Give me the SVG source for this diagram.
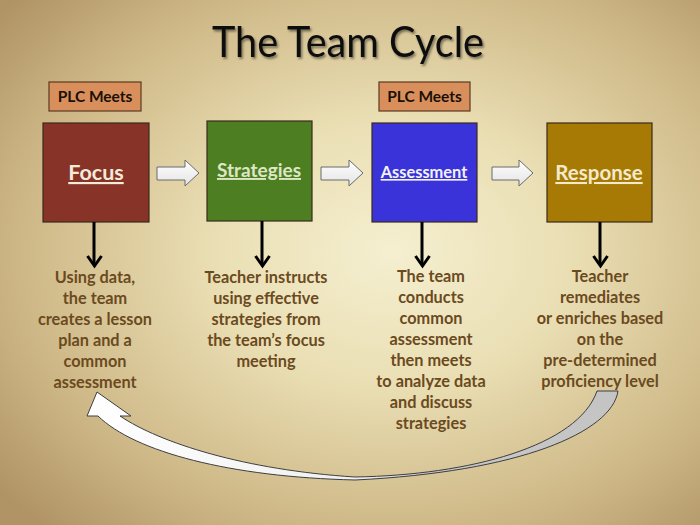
<svg xmlns="http://www.w3.org/2000/svg" width="700" height="525" viewBox="0 0 700 525">
<defs>
  <radialGradient id="bg" cx="0.56" cy="0.48" r="0.72">
    <stop offset="0" stop-color="#F5EFD0"/>
    <stop offset="0.35" stop-color="#EADFB4"/>
    <stop offset="0.75" stop-color="#CDB685"/>
    <stop offset="1" stop-color="#B09466"/>
  </radialGradient>
  <linearGradient id="blk" x1="0" y1="0" x2="0" y2="1">
    <stop offset="0" stop-color="#FFFFFF"/>
    <stop offset="1" stop-color="#E4E4E4"/>
  </linearGradient>
  <linearGradient id="curve" x1="0" y1="0" x2="1" y2="0">
    <stop offset="0" stop-color="#FFFFFF"/>
    <stop offset="0.5" stop-color="#F0F0F0"/>
    <stop offset="0.65" stop-color="#C8C8C8"/>
    <stop offset="1" stop-color="#C4C4C4"/>
  </linearGradient>
  <filter id="sh" x="-10%" y="-20%" width="120%" height="150%">
    <feDropShadow dx="1.5" dy="2" stdDeviation="1.2" flood-color="#000" flood-opacity="0.45"/>
  </filter>
  <style>
    .title{font-family:"Lato","Open Sans","Liberation Sans",sans-serif;font-size:42px;fill:#111;}
    .plc rect{fill:#D98F5B;stroke:#5A3A22;stroke-width:1.2;}
    .plc text{font-family:"Lato","Liberation Sans",sans-serif;font-weight:bold;font-size:15.5px;fill:#1A1008;text-anchor:middle;}
    .box rect{stroke:#3A2A1A;stroke-width:1.2;}
    .box text{font-family:"Lato","Liberation Sans",sans-serif;font-weight:bold;text-anchor:middle;text-decoration:underline;}
    .desc{font-family:"Lato","Liberation Sans",sans-serif;font-weight:bold;font-size:16.3px;fill:#6B4A1E;text-anchor:middle;}
    .blk{fill:url(#blk);stroke:#6A6A6A;stroke-width:1;}
    .down{stroke:#000;stroke-width:3;fill:none;}
    .vh{stroke:#000;stroke-width:3;fill:none;stroke-linejoin:miter;}
  </style>
</defs>
<rect width="700" height="525" fill="url(#bg)"/>
<text class="title" x="348" y="57" text-anchor="middle" textLength="272" lengthAdjust="spacingAndGlyphs" filter="url(#sh)">The Team Cycle</text>

<g id="plc1" class="plc"><rect x="49" y="82" width="92" height="29"/><text x="95" y="102">PLC Meets</text></g>
<g id="plc2" class="plc"><rect x="379" y="82" width="91" height="29"/><text x="424.5" y="102">PLC Meets</text></g>

<g id="focus" class="box"><rect x="43" y="123" width="106" height="99" fill="#873327"/><text x="96" y="180" font-size="21.5" fill="#F3EBDA">Focus</text></g>
<g id="strategies" class="box"><rect x="207" y="121" width="105" height="100" fill="#4E7E22"/><text x="259" y="177" font-size="19" fill="#DDE7C6">Strategies</text></g>
<g id="assessment" class="box"><rect x="372" y="123" width="105" height="99" fill="#3A33DA"/><text x="424" y="178" font-size="16.4" fill="#F2F2F8">Assessment</text></g>
<g id="response" class="box"><rect x="547" y="123" width="105" height="99" fill="#A67A05"/><text x="599" y="180" font-size="20.5" fill="#F4EACB">Response</text></g>

<g id="connectors">
  <path class="blk" d="M157,167 H185 V160 L199,173 L185,186 V180 H157 Z"/>
  <path class="blk" d="M321,167 H349 V160 L363,173 L349,186 V180 H321 Z"/>
  <path class="blk" d="M492,167 H519 V160 L533,173 L519,186 V180 H492 Z"/>
  <path class="down" d="M94,222 V265"/><path class="vh" d="M87.5,256 L94.5,266 L101.5,256"/>
  <path class="down" d="M262,221 V265"/><path class="vh" d="M255.5,256 L262.5,266 L269.5,256"/>
  <path class="down" d="M422,222 V265"/><path class="vh" d="M415.5,256 L422.5,266 L429.5,256"/>
  <path class="down" d="M600,222 V265"/><path class="vh" d="M593.5,256 L600.5,266 L607.5,256"/>
  <path d="M97,392 L131,416 L120,416 C160,443 245,470 355,477 C470,475 578,446 597,391 L618,391 C612,432 520,472 355,480 C230,477 135,452 98,416 L87,416 Z" fill="url(#curve)" stroke="#3E3E3E" stroke-width="1"/>
</g>

<g id="focus-text" class="desc">
  <text x="95" y="283">Using data,</text>
  <text x="95" y="304">the team</text>
  <text x="95" y="325">creates a lesson</text>
  <text x="95" y="346">plan and a</text>
  <text x="95" y="367">common</text>
  <text x="95" y="388">assessment</text>
</g>
<g id="strategies-text" class="desc">
  <text x="266" y="283">Teacher instructs</text>
  <text x="266" y="304">using effective</text>
  <text x="266" y="325">strategies from</text>
  <text x="266" y="346">the team’s focus</text>
  <text x="266" y="367">meeting</text>
</g>
<g id="assessment-text" class="desc">
  <text x="431" y="282">The team</text>
  <text x="431" y="303">conducts</text>
  <text x="431" y="324">common</text>
  <text x="431" y="345">assessment</text>
  <text x="431" y="366">then meets</text>
  <text x="431" y="387">to analyze data</text>
  <text x="431" y="408">and discuss</text>
  <text x="431" y="429">strategies</text>
</g>
<g id="response-text" class="desc">
  <text x="600" y="282">Teacher</text>
  <text x="600" y="303">remediates</text>
  <text x="600" y="324">or enriches based</text>
  <text x="600" y="345">on the</text>
  <text x="600" y="366">pre-determined</text>
  <text x="600" y="387">proficiency level</text>
</g>
</svg>
